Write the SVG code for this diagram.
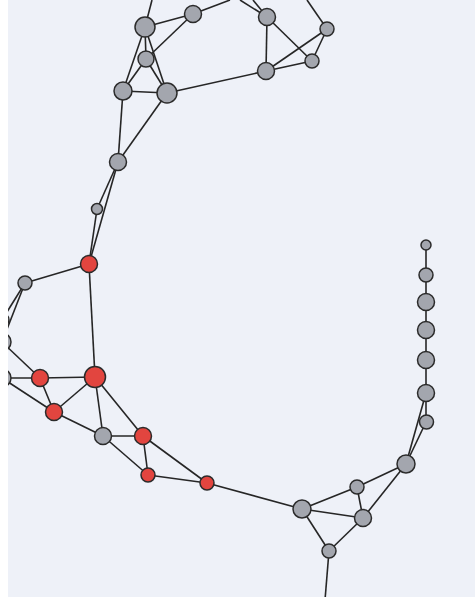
<svg xmlns="http://www.w3.org/2000/svg" width="475" height="610" viewBox="0 0 475 610">
<style>
.e{stroke:#262626;stroke-width:1.6;fill:none}
.g{fill:#a3a6ae;stroke:#2b2b2b;stroke-width:1.5}
.r{fill:#e2453f;stroke:#2b2b2b;stroke-width:1.5}
</style>
<rect x="0" y="0" width="475" height="610" fill="#eef1f8"/>
<g id="connectors" class="e">
<line x1="145" y1="27" x2="193" y2="14"/>
<line x1="145" y1="27" x2="146" y2="59"/>
<line x1="145" y1="27" x2="123" y2="91"/>
<line x1="145" y1="27" x2="167" y2="93"/>
<line x1="145" y1="27" x2="152" y2="0"/>
<line x1="193" y1="14" x2="146" y2="59"/>
<line x1="193" y1="14" x2="230" y2="0"/>
<line x1="267" y1="17" x2="240" y2="0"/>
<line x1="267" y1="17" x2="253" y2="0"/>
<line x1="267" y1="17" x2="266" y2="71"/>
<line x1="267" y1="17" x2="312" y2="61"/>
<line x1="327" y1="29" x2="307" y2="0"/>
<line x1="327" y1="29" x2="266" y2="71"/>
<line x1="327" y1="29" x2="312" y2="61"/>
<line x1="312" y1="61" x2="266" y2="71"/>
<line x1="146" y1="59" x2="123" y2="91"/>
<line x1="146" y1="59" x2="167" y2="93"/>
<line x1="123" y1="91" x2="167" y2="93"/>
<line x1="123" y1="91" x2="118" y2="162"/>
<line x1="167" y1="93" x2="118" y2="162"/>
<line x1="167" y1="93" x2="266" y2="71"/>
<line x1="118" y1="162" x2="97" y2="209"/>
<line x1="118" y1="162" x2="89" y2="264"/>
<line x1="97" y1="209" x2="89" y2="264"/>
<line x1="89" y1="264" x2="25" y2="283"/>
<line x1="89" y1="264" x2="95" y2="377"/>
<line x1="25" y1="283" x2="2" y2="320"/>
<line x1="25" y1="283" x2="2" y2="342"/>
<line x1="2" y1="342" x2="40" y2="378"/>
<line x1="2" y1="378" x2="40" y2="378"/>
<line x1="2" y1="378" x2="54" y2="412"/>
<line x1="40" y1="378" x2="95" y2="377"/>
<line x1="40" y1="378" x2="54" y2="412"/>
<line x1="95" y1="377" x2="54" y2="412"/>
<line x1="95" y1="377" x2="103" y2="436"/>
<line x1="95" y1="377" x2="143" y2="436"/>
<line x1="54" y1="412" x2="103" y2="436"/>
<line x1="103" y1="436" x2="143" y2="436"/>
<line x1="103" y1="436" x2="148" y2="475"/>
<line x1="143" y1="436" x2="148" y2="475"/>
<line x1="143" y1="436" x2="207" y2="483"/>
<line x1="148" y1="475" x2="207" y2="483"/>
<line x1="207" y1="483" x2="302" y2="509"/>
<line x1="302" y1="509" x2="357" y2="487"/>
<line x1="302" y1="509" x2="363" y2="518"/>
<line x1="302" y1="509" x2="329" y2="551"/>
<line x1="357" y1="487" x2="363" y2="518"/>
<line x1="357" y1="487" x2="406" y2="464"/>
<line x1="363" y1="518" x2="406" y2="464"/>
<line x1="363" y1="518" x2="329" y2="551"/>
<line x1="329" y1="551" x2="325" y2="600"/>
<line x1="406" y1="464" x2="426" y2="422"/>
<line x1="406" y1="464" x2="426" y2="393"/>
<line x1="426" y1="245" x2="426" y2="422"/>
</g>
<g id="nA"><circle class="g" cx="145" cy="27" r="10"/></g>
<g id="nB"><circle class="g" cx="193" cy="14" r="8.5"/></g>
<g id="nC"><circle class="g" cx="267" cy="17" r="8.5"/></g>
<g id="nD"><circle class="g" cx="327" cy="29" r="7"/></g>
<g id="nE"><circle class="g" cx="312" cy="61" r="7"/></g>
<g id="nF"><circle class="g" cx="266" cy="71" r="8.5"/></g>
<g id="nG"><circle class="g" cx="146" cy="59" r="8"/></g>
<g id="nH"><circle class="g" cx="123" cy="91" r="9"/></g>
<g id="nI"><circle class="g" cx="167" cy="93" r="10"/></g>
<g id="nJ"><circle class="g" cx="118" cy="162" r="8.5"/></g>
<g id="nK"><circle class="g" cx="97" cy="209" r="5.5"/></g>
<g id="nL"><circle class="r" cx="89" cy="264" r="8.5"/></g>
<g id="nM"><circle class="g" cx="25" cy="283" r="7"/></g>
<g id="nZ1"><circle class="g" cx="2" cy="320" r="7"/></g>
<g id="nZ2"><circle class="g" cx="2" cy="342" r="9"/></g>
<g id="nZ3"><circle class="g" cx="2" cy="378" r="9"/></g>
<g id="nN"><circle class="r" cx="40" cy="378" r="8.5"/></g>
<g id="nO"><circle class="r" cx="95" cy="377" r="10.5"/></g>
<g id="nP"><circle class="r" cx="54" cy="412" r="8.5"/></g>
<g id="nQ"><circle class="g" cx="103" cy="436" r="8.5"/></g>
<g id="nR"><circle class="r" cx="143" cy="436" r="8.5"/></g>
<g id="nS"><circle class="r" cx="148" cy="475" r="7"/></g>
<g id="nT"><circle class="r" cx="207" cy="483" r="7"/></g>
<g id="nU"><circle class="g" cx="302" cy="509" r="9"/></g>
<g id="nV"><circle class="g" cx="357" cy="487" r="7"/></g>
<g id="nW"><circle class="g" cx="363" cy="518" r="8.5"/></g>
<g id="nX"><circle class="g" cx="329" cy="551" r="7"/></g>
<g id="nY"><circle class="g" cx="406" cy="464" r="9"/></g>
<g id="c1"><circle class="g" cx="426" cy="245" r="5"/></g>
<g id="c2"><circle class="g" cx="426" cy="275" r="7"/></g>
<g id="c3"><circle class="g" cx="426" cy="302" r="8.5"/></g>
<g id="c4"><circle class="g" cx="426" cy="330" r="8.5"/></g>
<g id="c5"><circle class="g" cx="426" cy="360" r="8.5"/></g>
<g id="c6"><circle class="g" cx="426" cy="393" r="8.5"/></g>
<g id="c7"><circle class="g" cx="426.5" cy="422" r="7"/></g>
<rect x="0" y="0" width="8" height="610" fill="#ffffff"/>
<rect x="0" y="597" width="475" height="13" fill="#ffffff"/>
</svg>
